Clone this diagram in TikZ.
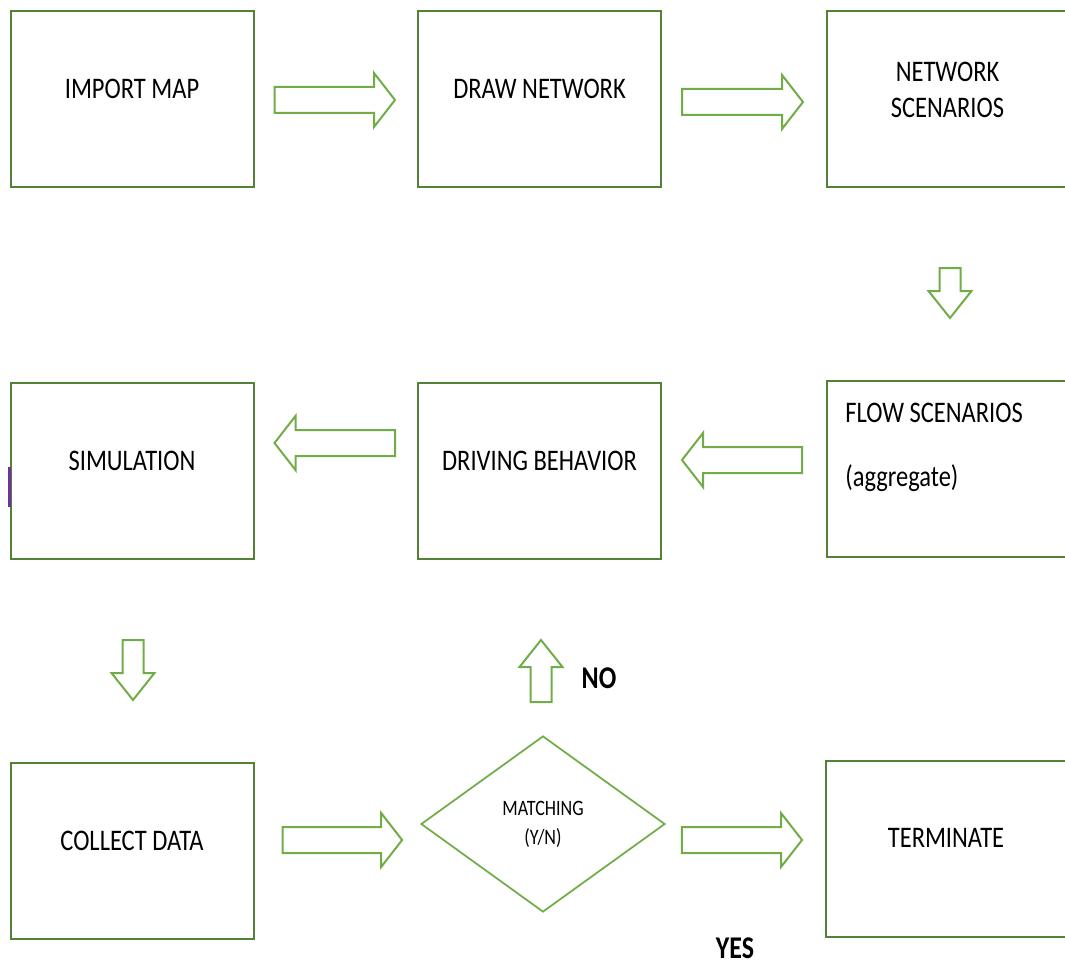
\documentclass[tikz,border=0pt]{standalone}
\usepackage{fontspec}
\setmainfont{Carlito}[FakeStretch=0.82]
\usetikzlibrary{arrows.meta, positioning, shapes.geometric, calc}

\begin{document}
\begin{tikzpicture}[x=0.2mm, y=-0.2mm]
  % Parameters
  \def\pxl{0.2mm}      % one pixel of the layout
  \def\shaftw{2.6mm}   % half width of arrow shaft
  \def\headw{5.4mm}    % half width of arrow head
  \def\headl{4.2mm}    % length of arrow head

  % Styles
  \definecolor{boxgreen}{RGB}{84,130,53}
  \definecolor{arrgreen}{RGB}{112,173,71}
  \definecolor{markviolet}{RGB}{112,48,160}
  \tikzset{
    box/.style={draw=boxgreen, line width=0.4mm, inner sep=0pt,
      minimum width=243*\pxl, minimum height=176*\pxl},
    decision/.style={diamond, draw=arrgreen, line width=0.35mm, inner sep=0pt,
      minimum width=244*\pxl, minimum height=176*\pxl, align=center,
      font=\fontsize{12.5}{16.5}\selectfont},
    txt/.style={font=\fontsize{17}{20.5}\selectfont, inner sep=0pt},
    answer/.style={font=\fontsize{18}{20}\selectfont\bfseries, inner sep=0pt},
    blockarrow/.style={draw=arrgreen, line width=0.4mm, fill=white}
  }

  % Hollow block arrow from #1 (tail) to #2 (tip)
  \newcommand{\blockarr}[2]{%
    \draw[blockarrow] let \p1=#1, \p2=#2,
        \n1={atan2(\y2-\y1,\x2-\x1)}, \n2={veclen(\x2-\x1,\y2-\y1)} in
      [shift={(\p1)}, rotate=\n1]
      (0pt,-\shaftw) -- (\n2-\headl,-\shaftw) -- (\n2-\headl,-\headw)
      -- (\n2,0pt) -- (\n2-\headl,\headw) -- (\n2-\headl,\shaftw)
      -- (0pt,\shaftw) -- cycle;
  }

  \useasboundingbox (0,0) rectangle (1065,964);

  % Row 1
  \node[box, label={[txt,yshift=2mm]center:IMPORT MAP}] (imp) at (132,99) {};
  \node[box, label={[txt,yshift=2mm]center:DRAW NETWORK}] (drw) at (539.5,99) {};
  \node[box, minimum width=241*\pxl,
    label={[txt,align=center,yshift=1.8mm]center:NETWORK\\SCENARIOS}] (net) at (947.5,99) {};

  % Row 2
  \node[box, label={[txt,yshift=2mm]center:SIMULATION}] (sim) at (132,471) {};
  \node[box, label={[txt,yshift=2mm]center:DRIVING BEHAVIOR}] (drv) at (539.5,471) {};
  \node[box, minimum width=240*\pxl] (flow) at (947,469) {};
  \node[txt, align=left, anchor=north west] (flow-t) at (845,403)
    {FLOW SCENARIOS\\[15.5pt](aggregate)};
  \draw[markviolet, line width=0.5mm] ($(sim.west)+(0,-4)$) -- ($(sim.west)+(0,36)$);

  % Row 3
  \node[box, label={[txt,yshift=2mm]center:COLLECT DATA}] (col) at (132,851) {};
  \node[decision] (dia) at (543,824) {MATCHING\\(Y/N)};
  \node[box, minimum width=240*\pxl, label={[txt,yshift=2.2mm]center:TERMINATE}] (term) at (946,849) {};

  \node[answer] (no) at (599,678) {NO};
  \node[answer] (yes) at (735,948) {YES};

  % Horizontal arrows
  \blockarr{($(imp.east)+(20,1)$)}{($(drw.west)+(-22,1)$)}
  \blockarr{($(drw.east)+(20,3)$)}{($(net.west)+(-23,3)$)}
  \blockarr{($(flow.west)+(-24,-9)$)}{($(drv.east)+(20,-11)$)}
  \blockarr{($(drv.west)+(-22,-28)$)}{($(sim.east)+(20,-28)$)}
  \blockarr{($(col.east)+(28,-11)$)}{($(dia.west)+(-18,16)$)}
  \blockarr{($(dia.east)+(16,16)$)}{($(term.west)+(-23,-9)$)}

  % Vertical arrows
  \begin{scope}
    \def\shaftw{2.1mm}
    \def\headw{4.3mm}
    \def\headl{5.4mm}
    \blockarr{($(net.south)+(2.5,80)$)}{($(flow.north)+(3,-62)$)}
    \blockarr{($(sim.south)+(1,80)$)}{($(col.north)+(1,-62)$)}
    \blockarr{($(dia.north)+(-2,-33)$)}{($(drv.south)+(1.5,80)$)}
  \end{scope}
\end{tikzpicture}
\end{document}
